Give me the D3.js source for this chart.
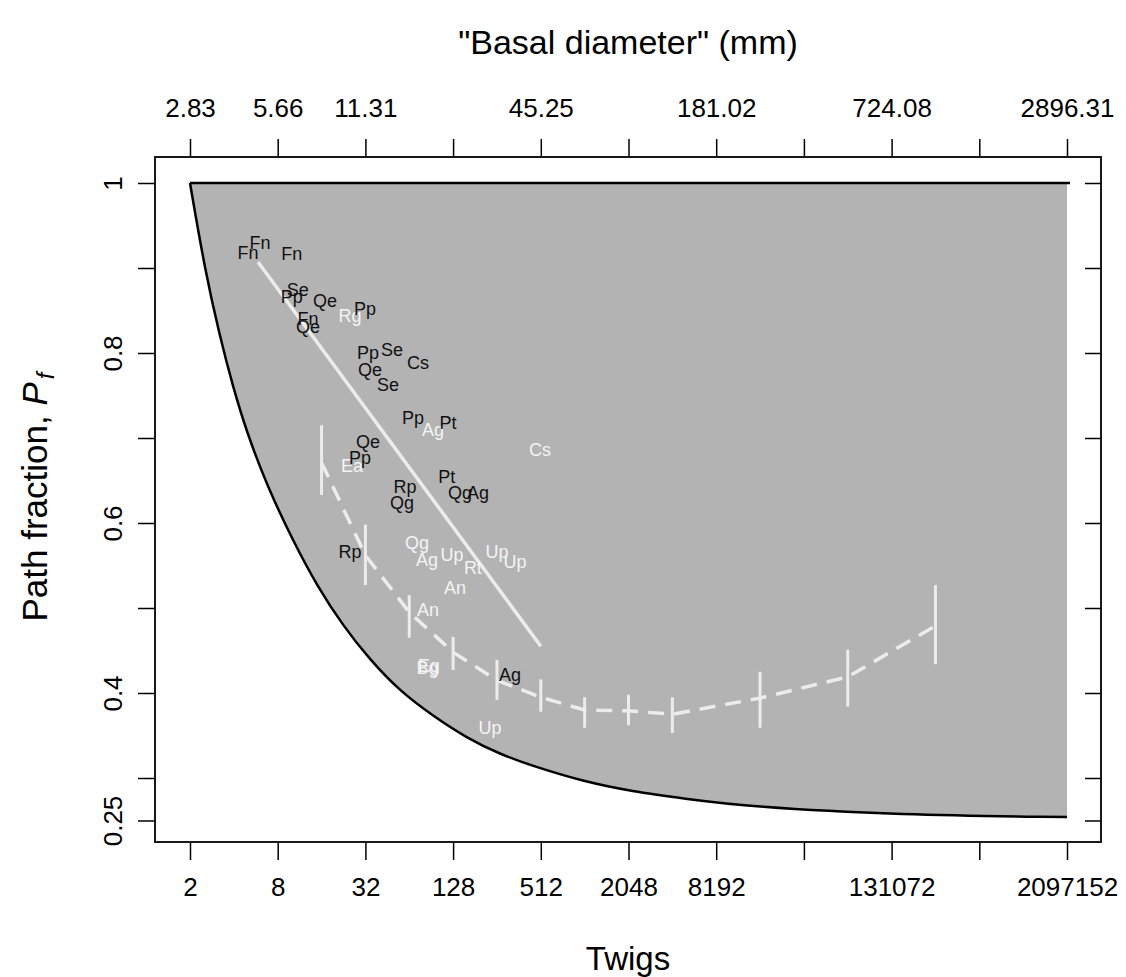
<!doctype html>
<html>
  <head>
    <meta charset="utf-8">
    <title>Path fraction vs twigs</title>
    <style>
      body { margin: 0; background: #fff; }
      svg { display: block; font-family: "Liberation Sans", Arial, Helvetica, sans-serif; }
      .axis path { display: none; }
      .axis line { stroke: #000; stroke-width: 1.5px; }
      .axis text { font-size: 26px; fill: #000; }
      .code { font-size: 18px; text-anchor: middle; dominant-baseline: central; }
    </style>
  </head>
  <body>
    <div id="chart"></div>
    <script src="https://cdn.jsdelivr.net/npm/d3@7"></script>
    <script>
      // axis ticks
      var twigTicks = [2, 8, 32, 128, 512, 2048, 8192, 32768, 131072, 524288, 2097152];
      var twigLabels = ["2", "8", "32", "128", "512", "2048", "8192", "", "131072", "", "2097152"];
      var diamLabels = ["2.83", "5.66", "11.31", "", "45.25", "", "181.02", "", "724.08", "", "2896.31"];
      var pfTicks = [1, 0.9, 0.8, 0.7, 0.6, 0.5, 0.4, 0.3, 0.25];
      var pfLabels = ["1", "", "0.8", "", "0.6", "", "0.4", "", "0.25"];

      // lower bound of path fraction
      var boundTwigs = [2, 2.53, 3.21, 3.95, 4.93, 6.24, 7.43, 10.2, 14.9, 22.5, 34.4, 55.3, 93.2, 159, 269, 452, 997, 2190, 4830, 13900, 149000, 2097152];
      var boundPf = [1, 0.898, 0.819, 0.76, 0.706, 0.66, 0.629, 0.579, 0.526, 0.479, 0.439, 0.402, 0.373, 0.347, 0.328, 0.314, 0.296, 0.284, 0.276, 0.266, 0.2565, 0.254];

      // fitted line through the species points
      var fitTwigs = [5.86, 512];
      var fitPf = [0.907, 0.455];

      // binned means with error bars
      var binTwigs = [16, 32, 64, 128, 256, 512, 1024, 2048, 4096, 16384, 65536, 262144];
      var binMean = [0.671, 0.562, 0.495, 0.448, 0.415, 0.395, 0.38, 0.379, 0.375, 0.394, 0.419, 0.479];
      var binLo = [0.633, 0.527, 0.465, 0.427, 0.392, 0.378, 0.359, 0.362, 0.353, 0.359, 0.384, 0.434];
      var binHi = [0.715, 0.598, 0.515, 0.466, 0.439, 0.416, 0.395, 0.398, 0.395, 0.425, 0.451, 0.527];

      // species codes, black
      var blackCodes = ["Fn", "Fn", "Fn", "Se", "Pp", "Qe", "Fn", "Qe", "Pp", "Pp", "Se", "Cs", "Qe", "Se", "Pp", "Pt", "Qe", "Pp", "Rp", "Qg", "Pt", "Qg", "Ag", "Rp", "Ag"];
      var blackTwigs = [5.0, 6.05, 10.0, 11.0, 10.0, 16.9, 12.9, 12.9, 31.8, 33.3, 48.7, 73.5, 34.4, 45.7, 67.9, 118, 33.3, 29.4, 59.8, 57.1, 116, 143, 190, 25.1, 315];
      var blackPf = [0.918, 0.929, 0.916, 0.874, 0.866, 0.861, 0.84, 0.831, 0.852, 0.8, 0.804, 0.788, 0.78, 0.762, 0.724, 0.718, 0.695, 0.676, 0.642, 0.624, 0.654, 0.635, 0.635, 0.566, 0.421];

      // species codes, white
      var whiteCodes = ["Rg", "Ag", "Ea", "Cs", "Qg", "Ag", "Up", "Rt", "Up", "Up", "An", "An", "Bg", "Eg", "Up"];
      var whiteTwigs = [25.1, 93.2, 25.9, 506, 72.4, 84.8, 126, 175, 256, 341, 132, 86.1, 85.5, 87, 229];
      var whitePf = [0.844, 0.709, 0.667, 0.686, 0.576, 0.556, 0.562, 0.547, 0.566, 0.554, 0.524, 0.498, 0.43, 0.432, 0.359];

      var width = 1126, height = 977;
      var box = {left: 155, right: 1101, top: 157, bottom: 842};

      var x = d3.scaleLog().base(2).domain([2, 2097152]).range([190, 1067]);
      var y = d3.scaleLinear().domain([0.25, 1]).range([820.5, 183]);

      var svg = d3.select('#chart').append('svg')
        .attr('width', width)
        .attr('height', height);

      var bound = boundTwigs.map(function(t, i) { return [t, boundPf[i]]; });

      // gray feasible region
      var area = d3.area()
        .x(function(d) { return x(d[0]); })
        .y0(y(1))
        .y1(function(d) { return y(d[1]); })
        .curve(d3.curveBasis);
      svg.append('path').datum(bound)
        .attr('d', area)
        .attr('fill', '#b3b3b3');

      var line = d3.line()
        .x(function(d) { return x(d[0]); })
        .y(function(d) { return y(d[1]); })
        .curve(d3.curveBasis);
      svg.append('path').datum(bound)
        .attr('d', line)
        .attr('fill', 'none')
        .attr('stroke', '#000')
        .attr('stroke-width', 2.5);

      svg.append('line')
        .attr('x1', x(2)).attr('x2', x(2097152) + 3)
        .attr('y1', y(1)).attr('y2', y(1))
        .attr('stroke', '#000')
        .attr('stroke-width', 2.5);

      // fit line
      svg.append('line')
        .attr('x1', x(fitTwigs[0])).attr('y1', y(fitPf[0]))
        .attr('x2', x(fitTwigs[1])).attr('y2', y(fitPf[1]))
        .attr('stroke', '#ececec')
        .attr('stroke-width', 3.5);

      // binned means
      var bins = binTwigs.map(function(t, i) { return {t: t, m: binMean[i], lo: binLo[i], hi: binHi[i]}; });
      svg.append('path').datum(bins)
        .attr('d', d3.line()
          .x(function(d) { return x(d.t); })
          .y(function(d) { return y(d.m); }))
        .attr('fill', 'none')
        .attr('stroke', '#ececec')
        .attr('stroke-width', 3.5)
        .attr('stroke-dasharray', '16,10');
      svg.selectAll('.ebar').data(bins).enter().append('line')
        .attr('class', 'ebar')
        .attr('x1', function(d) { return x(d.t); })
        .attr('x2', function(d) { return x(d.t); })
        .attr('y1', function(d) { return y(d.lo); })
        .attr('y2', function(d) { return y(d.hi); })
        .attr('stroke', '#ececec')
        .attr('stroke-width', 3);

      // species labels
      svg.selectAll('.wcode').data(whiteCodes).enter().append('text')
        .attr('class', 'code wcode')
        .attr('x', function(d, i) { return x(whiteTwigs[i]); })
        .attr('y', function(d, i) { return y(whitePf[i]); })
        .attr('fill', '#f4f4f4')
        .text(function(d) { return d; });
      svg.selectAll('.bcode').data(blackCodes).enter().append('text')
        .attr('class', 'code bcode')
        .attr('x', function(d, i) { return x(blackTwigs[i]); })
        .attr('y', function(d, i) { return y(blackPf[i]); })
        .attr('fill', '#111')
        .text(function(d) { return d; });

      // box
      svg.append('rect')
        .attr('x', box.left).attr('y', box.top)
        .attr('width', box.right - box.left)
        .attr('height', box.bottom - box.top)
        .attr('fill', 'none')
        .attr('stroke', '#000')
        .attr('stroke-width', 1.8);

      // axes
      svg.append('g').attr('class', 'axis')
        .attr('transform', 'translate(0,' + box.bottom + ')')
        .call(d3.axisBottom(x).tickValues(twigTicks).tickSize(18).tickPadding(18)
          .tickFormat(function(d, i) { return twigLabels[i]; }));

      svg.append('g').attr('class', 'axis')
        .attr('transform', 'translate(0,' + box.top + ')')
        .call(d3.axisTop(x).tickValues(twigTicks).tickSize(18).tickPadding(22)
          .tickFormat(function(d, i) { return diamLabels[i]; }));

      var left = svg.append('g').attr('class', 'axis')
        .attr('transform', 'translate(' + box.left + ',0)')
        .call(d3.axisLeft(y).tickValues(pfTicks).tickSize(17)
          .tickFormat(function(d, i) { return pfLabels[i]; }));
      left.selectAll('text')
        .attr('x', 0).attr('dy', null)
        .attr('text-anchor', 'middle')
        .attr('transform', 'translate(-33,0) rotate(-90)');

      svg.append('g').attr('class', 'axis')
        .attr('transform', 'translate(' + box.right + ',0)')
        .call(d3.axisLeft(y).tickValues(pfTicks).tickSize(16).tickFormat(''));

      // titles
      svg.append('text')
        .attr('x', 628).attr('y', 54)
        .attr('text-anchor', 'middle')
        .attr('font-size', 34)
        .text('"Basal diameter" (mm)');

      svg.append('text')
        .attr('x', 628).attr('y', 970)
        .attr('text-anchor', 'middle')
        .attr('font-size', 33)
        .text('Twigs');

      var ylab = svg.append('text')
        .attr('transform', 'translate(47,497) rotate(-90)')
        .attr('text-anchor', 'middle')
        .attr('font-size', 35);
      ylab.append('tspan').text('Path fraction, ');
      ylab.append('tspan').attr('font-style', 'italic').text('P');
      ylab.append('tspan').attr('font-style', 'italic').attr('font-size', 24).attr('dy', 7).attr('dx', 3).text('f');
    </script>
  </body>
</html>
